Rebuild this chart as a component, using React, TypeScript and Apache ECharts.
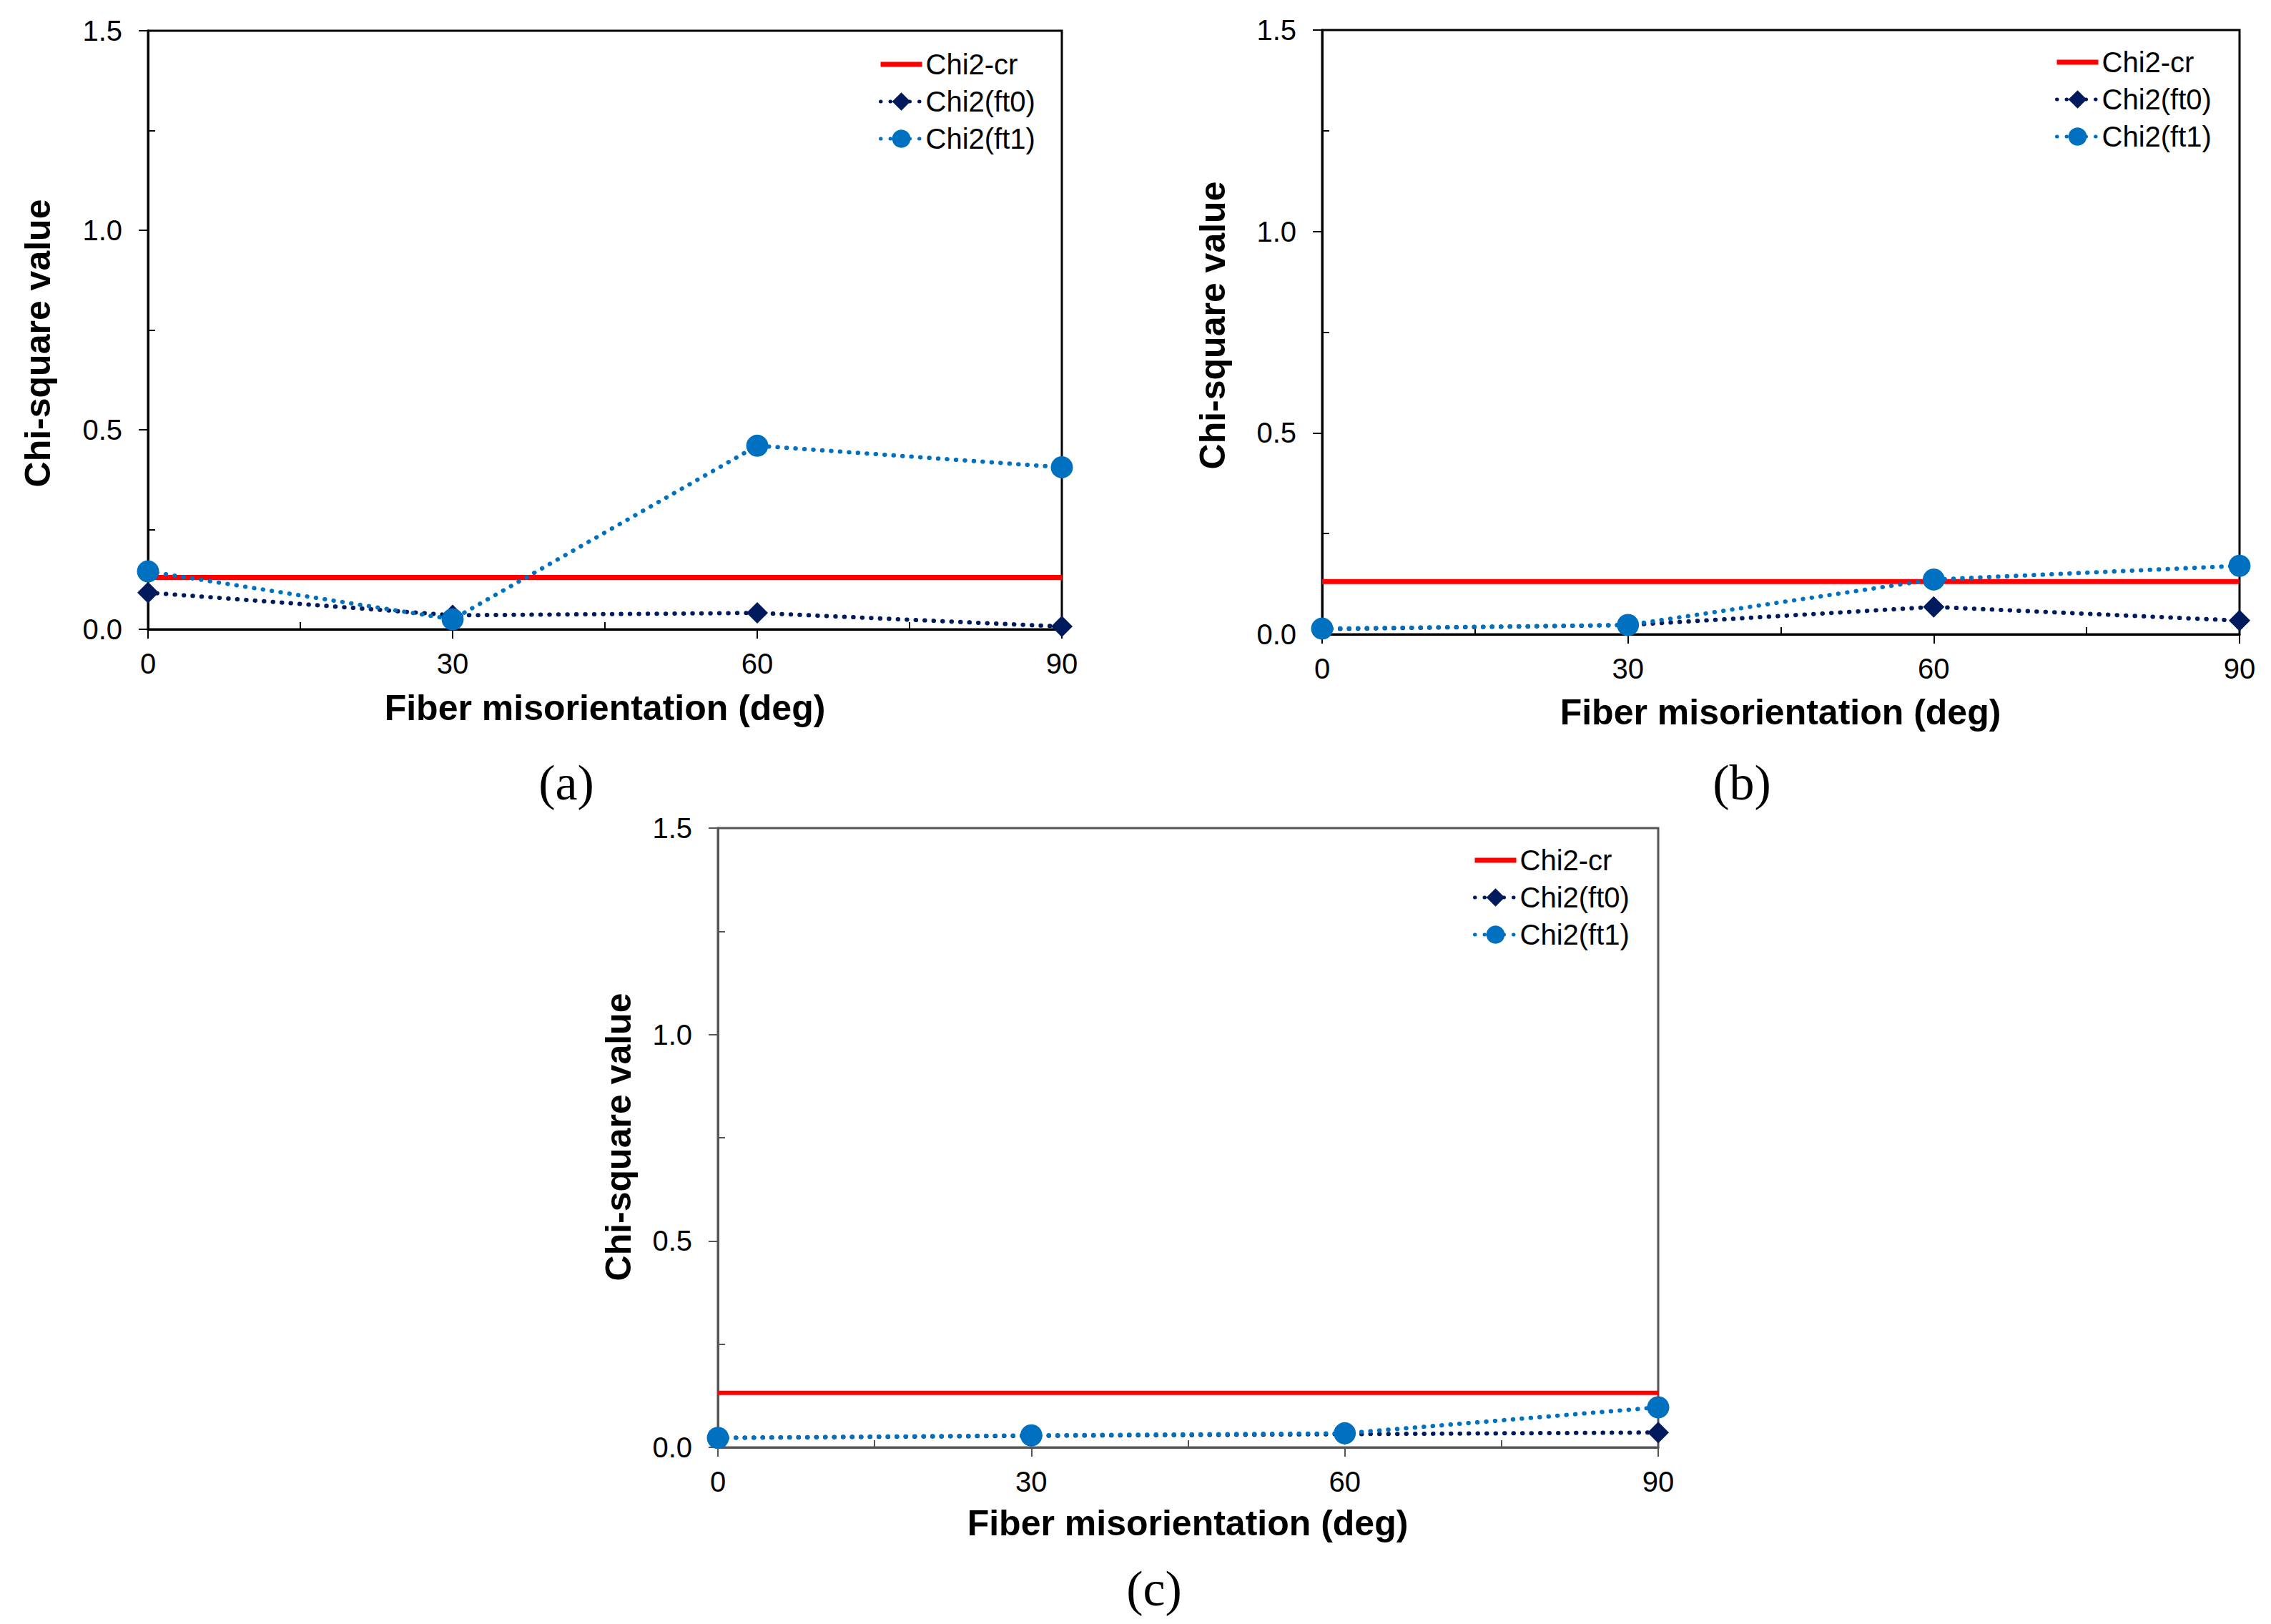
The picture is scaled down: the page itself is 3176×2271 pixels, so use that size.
import React, { useEffect, useRef } from "react";
import * as echarts from "echarts";

// ---- data ----
const xValues = [0, 30, 60, 90];
const yMajorTicks = [0, 0.5, 1.0, 1.5];
const yMinorTicks = [0.25, 0.75, 1.25];
const xMinorTicks = [15, 45, 75];

const seriesNames = ["Chi2-cr", "Chi2(ft0)", "Chi2(ft1)"];

const critA = [0.13, 0.13, 0.13, 0.13];
const ft0A = [0.092, 0.035, 0.041, 0.007];
const ft1A = [0.145, 0.025, 0.46, 0.406];

const critB = [0.131, 0.131, 0.131, 0.131];
const ft0B = [0.013, 0.023, 0.068, 0.034];
const ft1B = [0.014, 0.023, 0.136, 0.17];

const critC = [0.132, 0.132, 0.132, 0.132];
const ft0C = [0.023, 0.028, 0.032, 0.036];
const ft1C = [0.023, 0.029, 0.034, 0.097];

const panelLabels = ["(a)", "(b)", "(c)"];
const xTitle = "Fiber misorientation (deg)";
const yTitle = "Chi-square value";

// ---- layout (pixels) ----
const grids = [
  { left: 207, top: 43, width: 1278, height: 837 },
  { left: 1849, top: 42, width: 1283, height: 845 },
  { left: 1004, top: 1158, width: 1315, height: 866 },
];
const yTitlePos = [
  [53, 480],
  [1696, 455],
  [865, 1590],
];
const xTitlePos = [
  [846, 990],
  [2490, 996],
  [1661, 2130],
];
const captionPos = [
  [792, 1094],
  [2436, 1094],
  [1614, 2221],
];
const legendPos = [
  [1224, 65],
  [2869, 62],
  [2055, 1178],
];

const RED = "#ff0000";
const NAVY = "#001a5e";
const BLUE = "#0070c0";
const FONT = "'Liberation Sans', Arial, sans-serif";
const DOT: number[] = [0.5, 12];

const panels = [
  { crit: critA, ft0: ft0A, ft1: ft1A, axisColor: "#000", critWidth: 7, dotWidth: 6 },
  { crit: critB, ft0: ft0B, ft1: ft1B, axisColor: "#000", critWidth: 7, dotWidth: 6 },
  { crit: critC, ft0: ft0C, ft1: ft1C, axisColor: "#555", critWidth: 6, dotWidth: 6 },
];

function pairs(vals: number[]) {
  return xValues.map((x, i) => [x, vals[i]]);
}

function buildOption() {
  const grid: any[] = [];
  const xAxis: any[] = [];
  const yAxis: any[] = [];
  const series: any[] = [];
  const legend: any[] = [];
  const graphic: any[] = [];

  panels.forEach((p, i) => {
    const g = grids[i];
    grid.push({
      left: g.left,
      top: g.top,
      width: g.width,
      height: g.height,
      show: true,
      borderColor: p.axisColor,
      borderWidth: 3,
      backgroundColor: "transparent",
      outerBoundsMode: "none",
      containLabel: false,
    });
    xAxis.push({
      gridIndex: i,
      type: "value",
      min: 0,
      max: 90,
      interval: 30,
      axisLine: { show: true, lineStyle: { color: p.axisColor, width: 3 } },
      axisTick: { show: true, length: 13, lineStyle: { color: p.axisColor, width: 2 } },
      axisLabel: { fontSize: 40, color: "#000", fontFamily: FONT, margin: 28 },
      splitLine: { show: false },
    });
    xAxis.push({
      gridIndex: i,
      type: "value",
      min: 0,
      max: 90,
      interval: 15,
      position: "bottom",
      axisLine: { show: false },
      axisTick: {
        show: true,
        inside: true,
        length: 10,
        customValues: xMinorTicks,
        lineStyle: { color: p.axisColor, width: 2 },
      },
      axisLabel: { show: false },
      splitLine: { show: false },
    });
    yAxis.push({
      gridIndex: i,
      type: "value",
      min: 0,
      max: 1.5,
      interval: 0.5,
      axisLine: { show: true, lineStyle: { color: p.axisColor, width: 3 } },
      axisTick: {
        show: true,
        length: 13,
        customValues: yMajorTicks,
        lineStyle: { color: p.axisColor, width: 2 },
      },
      axisLabel: {
        fontSize: 40,
        color: "#000",
        fontFamily: FONT,
        margin: 36,
        formatter: (v: number) => v.toFixed(1),
      },
      splitLine: { show: false },
    });
    yAxis.push({
      gridIndex: i,
      type: "value",
      min: 0,
      max: 1.5,
      interval: 0.25,
      position: "left",
      axisLine: { show: false },
      axisTick: {
        show: true,
        inside: true,
        length: 10,
        customValues: yMinorTicks,
        lineStyle: { color: p.axisColor, width: 2 },
      },
      axisLabel: { show: false },
      splitLine: { show: false },
    });

    const xIdx = i * 2;
    const yIdx = i * 2;
    series.push({
      name: seriesNames[0],
      type: "line",
      xAxisIndex: xIdx,
      yAxisIndex: yIdx,
      data: pairs(p.crit),
      symbol: "none",
      lineStyle: { color: RED, width: p.critWidth, type: "solid" },
      itemStyle: { color: RED },
      clip: false,
      z: 2,
    });
    series.push({
      name: seriesNames[1],
      type: "line",
      xAxisIndex: xIdx,
      yAxisIndex: yIdx,
      data: pairs(p.ft0),
      symbol: "diamond",
      symbolSize: 30,
      lineStyle: { color: NAVY, width: p.dotWidth, type: DOT, cap: "round" },
      itemStyle: { color: NAVY },
      clip: false,
      z: 3,
    });
    series.push({
      name: seriesNames[2],
      type: "line",
      xAxisIndex: xIdx,
      yAxisIndex: yIdx,
      data: pairs(p.ft1),
      symbol: "circle",
      symbolSize: 31,
      lineStyle: { color: BLUE, width: p.dotWidth, type: DOT, cap: "round" },
      itemStyle: { color: BLUE },
      clip: false,
      z: 4,
    });

    legend.push({
      orient: "vertical",
      left: legendPos[i][0],
      top: legendPos[i][1],
      itemWidth: 58,
      itemHeight: 32,
      itemGap: 12,
      selectedMode: false,
      data: [
        {
          name: seriesNames[0],
          icon: "path://M0,0H58V7H0Z",
          itemStyle: { color: RED },
        },
        {
          name: seriesNames[1],
          lineStyle: { color: NAVY, width: 5, type: [0.5, 13], cap: "round" },
        },
        {
          name: seriesNames[2],
          lineStyle: { color: BLUE, width: 5, type: [0.5, 13], cap: "round" },
        },
      ],
      textStyle: { fontSize: 40, lineHeight: 40, color: "#000", fontFamily: FONT },
    });

    graphic.push({
      type: "text",
      x: yTitlePos[i][0],
      y: yTitlePos[i][1],
      rotation: Math.PI / 2,
      style: {
        text: yTitle,
        font: `bold 50px ${FONT}`,
        fill: "#000",
        textAlign: "center",
        textVerticalAlign: "middle",
      },
    });
    graphic.push({
      type: "text",
      x: xTitlePos[i][0],
      y: xTitlePos[i][1],
      style: {
        text: xTitle,
        font: `bold 50px ${FONT}`,
        fill: "#000",
        textAlign: "center",
        textVerticalAlign: "middle",
      },
    });
    graphic.push({
      type: "text",
      x: captionPos[i][0],
      y: captionPos[i][1],
      style: {
        text: panelLabels[i],
        font: `70px 'Liberation Serif', 'DejaVu Serif', serif`,
        fill: "#000",
        textAlign: "center",
        textVerticalAlign: "middle",
      },
    });
  });

  return {
    animation: false,
    backgroundColor: "#ffffff",
    grid,
    xAxis,
    yAxis,
    series,
    legend,
    graphic,
  };
}

export default function App() {
  const ref = useRef<HTMLDivElement>(null);
  useEffect(() => {
    if (!ref.current) return;
    const chart = echarts.init(ref.current, undefined, { renderer: "svg" });
    chart.setOption(buildOption() as any);
    return () => chart.dispose();
  }, []);
  return (
    <div
      ref={ref}
      style={{ position: "absolute", left: 0, top: 0, width: 3176, height: 2271, background: "#fff" }}
    />
  );
}
